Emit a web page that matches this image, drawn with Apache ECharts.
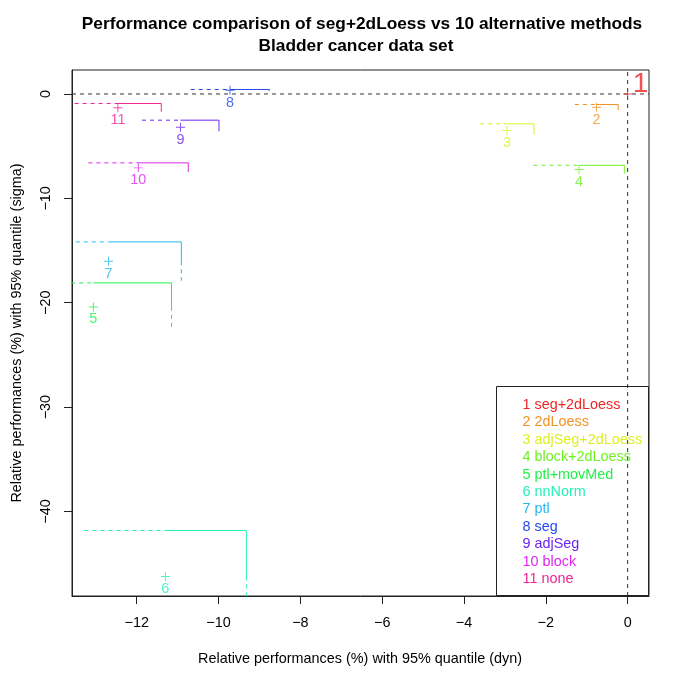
<!DOCTYPE html>
<html><head><meta charset="utf-8">
<script src="https://cdn.jsdelivr.net/npm/echarts@6/dist/echarts.min.js"></script>
<style>html,body{margin:0;padding:0;background:#fff}#c{width:685px;height:685px}</style>
</head><body><div id="c"></div>
<script>
// ---- data ----
const methodIds = [1, 2, 3, 4, 5, 6, 7, 8, 9, 10, 11];
const methodNames = ['seg+2dLoess', '2dLoess', 'adjSeg+2dLoess', 'block+2dLoess', 'ptl+movMed',
  'nnNorm', 'ptl', 'seg', 'adjSeg', 'block', 'none'];
// point (median) performance, dyn (x) and sigma (y)
const medianDyn   = [0, -0.76, -2.95, -1.19, -13.06, -11.30, -12.69, -9.72, -10.93, -11.96, -12.46];
const medianSigma = [0, -1.27, -3.50, -7.24, -20.40, -46.23, -16.03, 0.36, -3.18, -7.08, -1.32];
// 95% quantiles
const q95Dyn      = [0, -0.23, -2.29, -0.08, -11.15, -9.32, -10.91, -8.76, -9.99, -10.74, -11.40];
const q95Sigma    = [0, -1.01, -2.86, -6.83, -18.10, -41.82, -14.17, 0.43, -2.51, -6.60, -0.91];
const xTicks = [-12, -10, -8, -6, -4, -2, 0];
const yTicks = [-40, -30, -20, -10, 0];
const colors = ['#F02424', '#F09324', '#DDF024', '#6EF024', '#24F049', '#24F0B8',
  '#24B8F0', '#2449F0', '#6E24F0', '#DD24F0', '#F02493'];

// ---- R-like axis ranges (4% extension) ----
function rng(a) {
  const lo = Math.min(...a), hi = Math.max(...a), d = (hi - lo) * 0.04;
  return [lo - d, hi + d];
}
const [xMin, xMax] = rng(medianDyn.concat(q95Dyn));
const [yMin, yMax] = rng(medianSigma.concat(q95Sigma));

const FONT = "'Liberation Sans', Arial, sans-serif";
const FS = 14.4;
const minus = v => String(v).replace('-', '\u2212');

const series = [];
// reference lines
series.push({type: 'line', silent: true, symbol: 'none', data: [[0, yMin], [0, yMax]],
  lineStyle: {color: '#333', width: 1, type: [4, 4]}, z: 1});
series.push({type: 'line', silent: true, symbol: 'none', data: [[xMin, 0], [xMax, 0]],
  lineStyle: {color: '#333', width: 1, type: [4, 4]}, z: 1});

for (let i = 1; i < methodIds.length; i++) {
  const px = medianDyn[i], py = medianSigma[i], hx = q95Dyn[i], hy = q95Sigma[i];
  const c = colors[i];
  series.push({type: 'line', silent: true, symbol: 'none',
    data: [[px, hy], [hx, hy], [hx, py]], lineStyle: {color: c, width: 1}, z: 2});
  series.push({type: 'line', silent: true, symbol: 'none',
    data: [[2 * px - hx, hy], [px, hy]], lineStyle: {color: c, width: 1, type: [4, 4]}, z: 2});
  series.push({type: 'line', silent: true, symbol: 'none',
    data: [[hx, py], [hx, 2 * py - hy]], lineStyle: {color: c, width: 1, type: [4, 4]}, z: 2});
}

const plus = 'path://M0,4.45H10V5.55H0Z M4.45,0H5.55V10H4.45Z';
series.push({
  type: 'scatter', silent: true, symbol: plus, symbolSize: 9, z: 3,
  data: methodIds.map((id, i) => ({
    value: [medianDyn[i], medianSigma[i]],
    itemStyle: {color: colors[i]},
    label: i === 0
      ? {show: true, formatter: String(id), position: 'inside', offset: [13, -10],
         color: colors[i], fontSize: 28, fontFamily: FONT}
      : {show: true, formatter: String(id), position: 'inside', offset: [0, 12.5],
         color: colors[i], fontSize: FS, fontFamily: FONT}
  }))
});

// legend as graphic
const legendEls = [{type: 'rect', shape: {x: 496.5, y: 386.5, width: 152, height: 209},
  style: {fill: 'none', stroke: '#222', lineWidth: 1}, z: 10}];
methodIds.forEach((id, i) => {
  legendEls.push({type: 'text', x: 522.5, y: 405 + 17.4 * i, z: 10,
    style: {text: id + ' ' + methodNames[i], fill: colors[i], font: FS + 'px ' + FONT,
      align: 'left', verticalAlign: 'middle'}});
});

const chart = echarts.init(document.getElementById('c'), null, {renderer: 'canvas'});
chart.setOption({
  animation: false,
  backgroundColor: '#fff',
  grid: {left: 72, right: 36, top: 70, bottom: 89, show: true, borderColor: '#222', borderWidth: 1},
  xAxis: {type: 'value', min: xMin, max: xMax,
    axisLine: {show: true, onZero: false, lineStyle: {color: '#222'}},
    splitLine: {show: false},
    axisTick: {show: true, customValues: xTicks, length: 8, lineStyle: {color: '#222'}},
    axisLabel: {customValues: xTicks, margin: 20, fontSize: FS, color: '#000', fontFamily: FONT,
      formatter: minus}},
  yAxis: {type: 'value', min: yMin, max: yMax,
    axisLine: {show: true, onZero: false, lineStyle: {color: '#222'}},
    splitLine: {show: false},
    axisTick: {show: true, customValues: yTicks, length: 8, lineStyle: {color: '#222'}},
    axisLabel: {customValues: yTicks, margin: 19, rotate: 90, fontSize: FS, color: '#000',
      fontFamily: FONT, formatter: minus}},
  graphic: [
    {type: 'text', x: 362, y: 24, style: {text: 'Performance comparison of seg+2dLoess vs 10 alternative methods',
      font: 'bold 17.3px ' + FONT, fill: '#000', align: 'center', verticalAlign: 'middle'}},
    {type: 'text', x: 356, y: 46, style: {text: 'Bladder cancer data set',
      font: 'bold 17.3px ' + FONT, fill: '#000', align: 'center', verticalAlign: 'middle'}},
    {type: 'text', x: 360, y: 659, style: {text: 'Relative performances (%) with 95% quantile (dyn)',
      font: FS + 'px ' + FONT, fill: '#000', align: 'center', verticalAlign: 'middle'}},
    {type: 'text', x: 17, y: 333, rotation: Math.PI / 2, style: {text: 'Relative performances (%) with 95% quantile (sigma)',
      font: FS + 'px ' + FONT, fill: '#000', align: 'center', verticalAlign: 'middle'}}
  ].concat(legendEls),
  series: series
});
</script>
</body></html>
